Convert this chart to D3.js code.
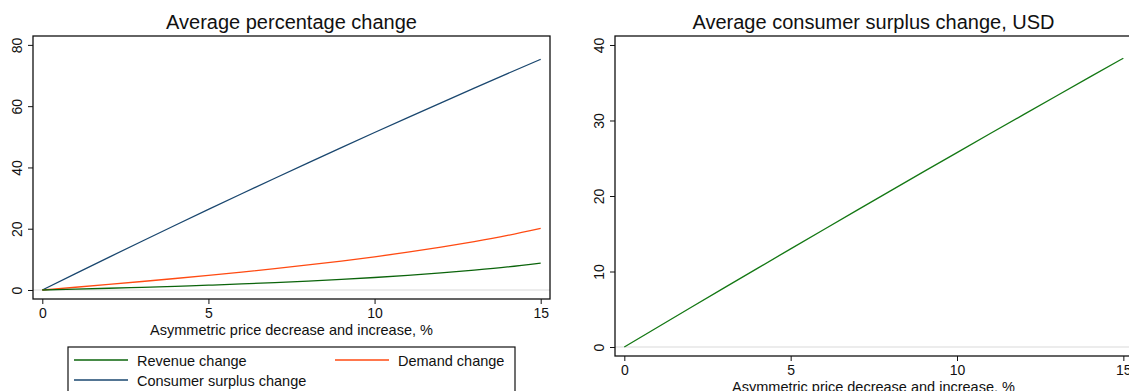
<!DOCTYPE html>
<html>
<head>
<meta charset="utf-8">
<script src="https://cdn.jsdelivr.net/npm/d3@7"></script>
<style>
  html, body { margin: 0; padding: 0; background: #fff; }
  svg { display: block; font-family: "Liberation Sans", Arial, Helvetica, sans-serif; }
</style>
</head>
<body>
<svg id="chart" width="1129" height="391"></svg>
<script>
// Price change, %
const priceChange = [0, 1, 2, 3, 4, 5, 6, 7, 8, 9, 10, 11, 12, 13, 14, 15];

// Left panel: average percentage change
const revenueChange = [0, 0.28, 0.57, 0.88, 1.21, 1.57, 1.97, 2.41, 2.9, 3.45, 4.07, 4.77, 5.56, 6.48, 7.52, 8.78];
const demandChange = [0, 0.9, 1.82, 2.77, 3.75, 4.77, 5.84, 6.97, 8.17, 9.45, 10.83, 12.33, 13.96, 15.78, 17.8, 20.1];
const surplusChangePct = [0, 5.36, 10.66, 15.92, 21.14, 26.3, 31.42, 36.48, 41.5, 46.48, 51.4, 56.28, 61.1, 65.88, 70.62, 75.3];

// Right panel: average consumer surplus change, USD
const surplusChangeUsd = [0, 2.62, 5.23, 7.83, 10.42, 13.0, 15.57, 18.13, 20.68, 23.22, 25.75, 28.27, 30.78, 33.28, 35.77, 38.25];

const xTicks = [0, 5, 10, 15];
const yTicksLeft = [0, 20, 40, 60, 80];
const yTicksRight = [0, 10, 20, 30, 40];

const leftTitle = "Average percentage change";
const rightTitle = "Average consumer surplus change, USD";
const xTitle = "Asymmetric price decrease and increase, %";
const legendLabels = ["Revenue change", "Demand change", "Consumer surplus change"];

const colRevenue = "#0b640b";
const colDemand = "#ff4a12";
const colSurplus = "#1a476f";
const colUsd = "#147814";

const svg = d3.select("#chart");

function panel(opts) {
  const { x0, x1, y0, y1, xDomain, yDomain, yTicks, title, series } = opts;
  const g = svg.append("g");
  const x = d3.scaleLinear().domain(xDomain).range([x0, x1]);
  const y = d3.scaleLinear().domain(yDomain).range([y1, y0]);

  // zero reference line
  g.append("line")
    .attr("x1", x0).attr("x2", x1)
    .attr("y1", y(0)).attr("y2", y(0))
    .attr("stroke", "#e6e6e6").attr("stroke-width", 1.5);

  const line = d3.line()
    .x((d, i) => x(priceChange[i]))
    .y(d => y(d))
    .curve(d3.curveMonotoneX);
  series.forEach(s => {
    g.append("path")
      .datum(s.values)
      .attr("d", line)
      .attr("fill", "none")
      .attr("stroke", s.color)
      .attr("stroke-width", 1.3);
  });

  // plot frame
  g.append("rect")
    .attr("x", x0).attr("y", y0)
    .attr("width", x1 - x0).attr("height", y1 - y0)
    .attr("fill", "none").attr("stroke", "#111").attr("stroke-width", 1.3);

  const xAxis = g.append("g")
    .attr("transform", `translate(0,${y1})`)
    .call(d3.axisBottom(x).tickValues(xTicks).tickSize(5).tickSizeOuter(0).tickPadding(4));
  xAxis.select(".domain").remove();
  xAxis.selectAll("line").attr("stroke", "#111");
  xAxis.selectAll("text")
    .attr("font-size", 14).attr("fill", "#111")
    .attr("font-family", "Liberation Sans, Arial, sans-serif");

  const yAxis = g.append("g")
    .attr("transform", `translate(${x0},0)`)
    .call(d3.axisLeft(y).tickValues(yTicks).tickSize(5).tickSizeOuter(0));
  yAxis.select(".domain").remove();
  yAxis.selectAll("line").attr("stroke", "#111");
  yAxis.selectAll("text")
    .attr("font-size", 14).attr("fill", "#111")
    .attr("font-family", "Liberation Sans, Arial, sans-serif")
    .attr("x", null).attr("dy", null)
    .attr("text-anchor", "middle")
    .attr("transform", "translate(-11,0) rotate(-90)");

  g.append("text")
    .attr("x", (x0 + x1) / 2).attr("y", 29)
    .attr("text-anchor", "middle")
    .attr("font-size", 20).attr("fill", "#111")
    .text(title);

  g.append("text")
    .attr("x", (x0 + x1) / 2).attr("y", y1 + 35.5)
    .attr("text-anchor", "middle")
    .attr("font-size", 14.5).attr("fill", "#111")
    .text(xTitle);
}

panel({
  x0: 33, x1: 550, y0: 36, y1: 299,
  xDomain: [-0.28, 15.28], yDomain: [-2.94, 82.9],
  yTicks: yTicksLeft, title: leftTitle,
  series: [
    { values: surplusChangePct, color: colSurplus },
    { values: demandChange, color: colDemand },
    { values: revenueChange, color: colRevenue }
  ]
});

panel({
  x0: 615, x1: 1132, y0: 36, y1: 356,
  xDomain: [-0.28, 15.26], yDomain: [-1.19, 41.19],
  yTicks: yTicksRight, title: rightTitle,
  series: [{ values: surplusChangeUsd, color: colUsd }]
});

// legend
const leg = svg.append("g");
leg.append("rect")
  .attr("x", 68).attr("y", 347).attr("width", 447).attr("height", 60)
  .attr("fill", "#fff").attr("stroke", "#111").attr("stroke-width", 1.2);
const legendItems = [
  { label: legendLabels[0], color: colRevenue, lx: 74, ly: 360 },
  { label: legendLabels[1], color: colDemand, lx: 335, ly: 360 },
  { label: legendLabels[2], color: colSurplus, lx: 74, ly: 380 }
];
legendItems.forEach(d => {
  leg.append("line")
    .attr("x1", d.lx).attr("x2", d.lx + 54)
    .attr("y1", d.ly).attr("y2", d.ly)
    .attr("stroke", d.color).attr("stroke-width", 1.3);
  leg.append("text")
    .attr("x", d.lx + 63).attr("y", d.ly + 5.5)
    .attr("font-size", 14.5).attr("fill", "#111")
    .text(d.label);
});
</script>
</body>
</html>
